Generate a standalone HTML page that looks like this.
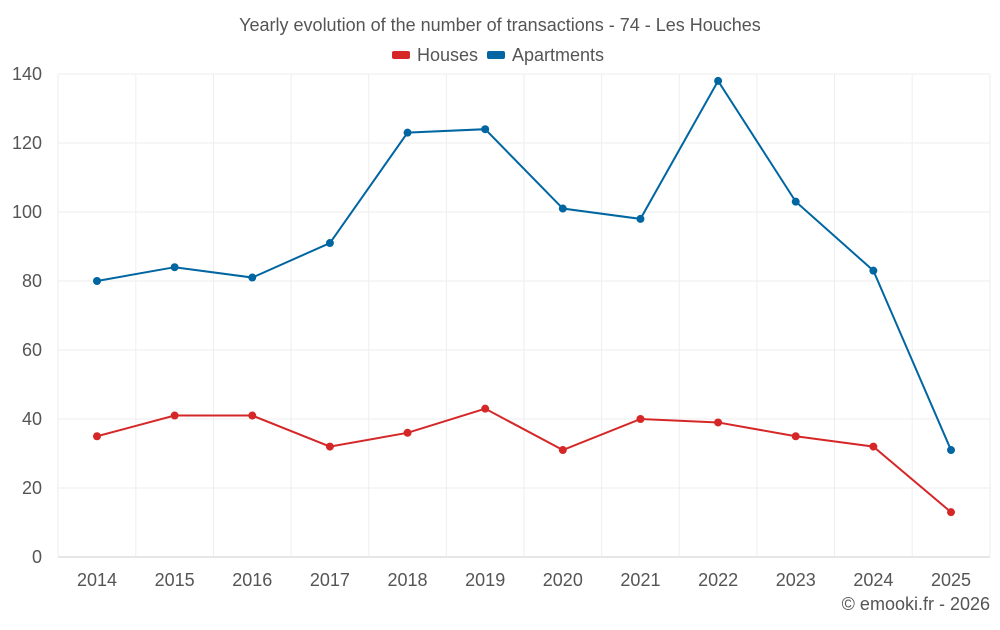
<!DOCTYPE html>
<html><head><meta charset="utf-8"><style>
body{margin:0;background:#fff;font-family:"Liberation Sans",sans-serif;}
svg text{font-family:"Liberation Sans",sans-serif;}
</style></head><body>
<svg id="chart" width="1000" height="625">
<text x="500" y="31" text-anchor="middle" font-size="18" fill="#555">Yearly evolution of the number of transactions - 74 - Les Houches</text>
<g>
<g><rect x="392" y="51" width="18" height="8" rx="2" fill="#d62728"/><text x="417" y="61" font-size="18" fill="#555">Houses</text></g>
<g><rect x="487" y="51" width="18" height="8" rx="2" fill="#0066a1"/><text x="512" y="61" font-size="18" fill="#555">Apartments</text></g>
</g>
<g id="grid"></g>
<g id="axes"></g>
<g id="series"></g>
<text x="990" y="610" text-anchor="end" font-size="18" fill="#555">© emooki.fr - 2026</text>
</svg>
<script>
const years=[2014,2015,2016,2017,2018,2019,2020,2021,2022,2023,2024,2025];
const houses=[35,41,41,32,36,43,31,40,39,35,32,13];
const apartments=[80,84,81,91,123,124,101,98,138,103,83,31];
const yTicks=[0,20,40,60,80,100,120,140];
const NS="http://www.w3.org/2000/svg";
const x0=97,dx=(951-97)/11,left=58,right=990;
const X=i=>x0+i*dx;
const Y=v=>557-v*(483/140);
function mk(tag,attrs,parent){const e=document.createElementNS(NS,tag);for(const k in attrs)e.setAttribute(k,attrs[k]);parent.appendChild(e);return e;}
const grid=document.getElementById('grid'),axes=document.getElementById('axes'),ser=document.getElementById('series');
yTicks.forEach(t=>{
 const l=mk('line',{x1:left,x2:right,y1:Y(t),y2:Y(t),stroke:t===0?'#ccc':'#eee','stroke-width':1},grid);
 
 
 const tx=mk('text',{x:42,y:Y(t)+6,'text-anchor':'end','font-size':18,fill:'#555'},axes);
 tx.textContent=t;
 
 
});
for(let i=0;i<=years.length;i++){
 const gx=i===0?left:(i===years.length?right:X(i)-dx/2);
 const l=mk('line',{x1:gx,x2:gx,y1:74,y2:557,stroke:'#eee','stroke-width':1},grid);
 
 
}
years.forEach((yr,i)=>{
 const tx=mk('text',{x:X(i),y:586,'text-anchor':'middle','font-size':18,fill:'#555'},axes);
 tx.textContent=yr;
 
 
});
function draw(data,color,name){
 const p=mk('polyline',{points:data.map((v,i)=>X(i)+','+Y(v)).join(' '),fill:'none',stroke:color,'stroke-width':2},ser);
 
 
 data.forEach((v,i)=>{
  const c=mk('circle',{cx:X(i),cy:Y(v),r:4,fill:color},ser);
  
  
 });
}
draw(houses,'#d62728','houses');
draw(apartments,'#0066a1','apartments');
</script>
</body></html>
